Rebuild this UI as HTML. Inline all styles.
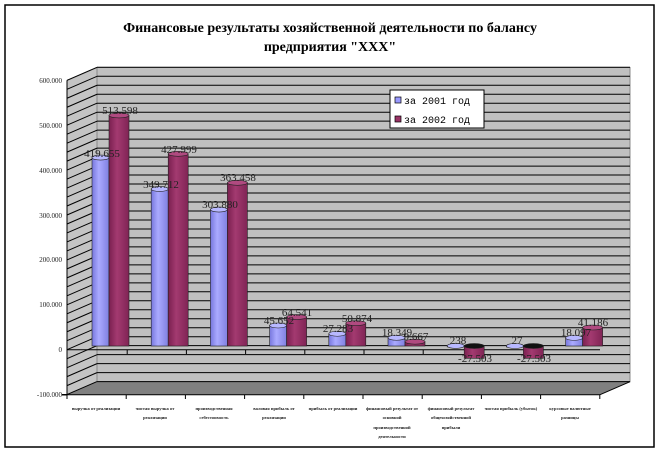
<!DOCTYPE html>
<html><head><meta charset="utf-8"><style>
body{margin:0;background:#fff}
svg text{font-family:"Liberation Serif","DejaVu Serif",serif}
</style></head><body>
<svg id="s" width="660" height="454" viewBox="0 0 660 454" xmlns="http://www.w3.org/2000/svg">
<defs>
<linearGradient id="gb" x1="0" x2="1"><stop offset="0" stop-color="#7777dd"/><stop offset="0.4" stop-color="#aaaaff"/><stop offset="1" stop-color="#8080e0"/></linearGradient>
<linearGradient id="gm" x1="0" x2="1"><stop offset="0" stop-color="#7a2050"/><stop offset="0.4" stop-color="#a33a70"/><stop offset="1" stop-color="#802455"/></linearGradient>
</defs>
<rect x="5" y="5" width="649" height="442" fill="#fff" stroke="#000" stroke-width="1.5"/>
<text x="330" y="32" text-anchor="middle" font-size="14" font-weight="bold">Финансовые результаты хозяйственной деятельности по балансу</text>
<text x="330" y="51" text-anchor="middle" font-size="14" font-weight="bold">предприятия "XXX"</text>
<rect x="97" y="67.5" width="533" height="314.2" fill="#c0c0c0" stroke="#888" stroke-width="1"/>
<polygon points="67,80.5 97,67.5 97,381.7 67,394.7" fill="#c4c4c4" stroke="#888"/>
<polygon points="67,394.7 97,381.7 630,381.7 600,394.7" fill="#808080"/>
<g id="grid" stroke="#000" stroke-width="1"></g>
<line x1="67" y1="349.7" x2="600" y2="349.7" stroke="#000"/>
<line x1="67" y1="394.7" x2="600" y2="394.7" stroke="#000"/>
<line x1="67" y1="80.5" x2="67" y2="394.7" stroke="#000"/>
<line x1="600" y1="394.7" x2="630" y2="381.7" stroke="#000"/>
<g id="ticks" stroke="#000"></g>
<g id="bars" stroke="#222" stroke-width="0.6"></g>
<g font-size="7" text-anchor="end" fill="#222">
<text x="62" y="83">600.000</text><text x="62" y="128">500.000</text><text x="62" y="173">400.000</text><text x="62" y="218">300.000</text><text x="62" y="262">200.000</text><text x="62" y="307">100.000</text><text x="62" y="352">0</text><text x="62" y="397">-100.000</text>
</g>
<g font-size="11" text-anchor="middle" fill="#222">
<text x="102" y="157">419.655</text><text x="120" y="114">513.598</text>
<text x="161" y="188">349.712</text><text x="179" y="153">427.999</text>
<text x="220" y="208">303.880</text><text x="238" y="181">363.458</text>
<text x="279" y="324">45.652</text><text x="297" y="316">64.541</text>
<text x="338" y="332">27.283</text><text x="357" y="322">50.874</text>
<text x="397" y="336">18.349</text><text x="416" y="340">9.667</text>
<text x="458" y="344">238</text><text x="475" y="362">-27.503</text>
<text x="517" y="344">27</text><text x="534" y="362">-27.503</text>
<text x="576" y="336">18.097</text><text x="593" y="326">41.186</text>
</g>
<rect x="390" y="90" width="94" height="38" fill="#fff" stroke="#000"/>
<rect x="395" y="97" width="6" height="6" fill="#9999ff" stroke="#000" stroke-width="0.7"/>
<rect x="395" y="116" width="6" height="6" fill="#993366" stroke="#000" stroke-width="0.7"/>
<g font-family="Liberation Mono,monospace" font-size="10"><text x="404" y="104" style="font-family:'Liberation Mono',monospace">за 2001 год</text><text x="404" y="123" style="font-family:'Liberation Mono',monospace">за 2002 год</text></g>
<g font-size="4.5" font-weight="bold" text-anchor="middle" fill="#222">
<text x="96" y="410">выручка от реализации</text>
<text x="155" y="410">чистая выручка от</text><text x="155" y="419">реализации</text>
<text x="214" y="410">производственная</text><text x="214" y="419">себестоимость</text>
<text x="274" y="410">валовая прибыль от</text><text x="274" y="419">реализации</text>
<text x="333" y="410">прибыль от реализации</text>
<text x="392" y="410">финансовый результат от</text><text x="392" y="419">основной</text><text x="392" y="429">производственной</text><text x="392" y="438">деятельности</text>
<text x="451" y="410">финансовый результат</text><text x="451" y="419">общехозяйственной</text><text x="451" y="429">прибыли</text>
<text x="511" y="410">чистая прибыль (убыток)</text>
<text x="570" y="410">курсовые валютные</text><text x="570" y="419">разницы</text>
</g>
</svg>
<script>
(function(){
var NS="http://www.w3.org/2000/svg";
function el(t,a,p){var e=document.createElementNS(NS,t);for(var k in a)e.setAttribute(k,a[k]);document.getElementById(p).appendChild(e);return e;}
for(var v=-100;v<=600;v+=20){var y=349.7-v*0.449;
el('line',{x1:97,y1:y-13,x2:630,y2:y-13},'grid');
el('line',{x1:67,y1:y,x2:97,y2:y-13},'grid');}
for(var i=0;i<=9;i++){var x=67+59.2*i;el('line',{x1:x,y1:394.7,x2:x,y2:399},'ticks');if(i>0&&i<9)el('line',{x1:x+1,y1:349.7,x2:x+1,y2:354},'ticks');el('line',{x1:67,y1:394.7,x2:62,y2:394.7},'ticks');}
var d=[[419655,513598],[349712,427999],[303880,363458],[45652,64541],[27283,50874],[18349,9667],[238,-27503],[27,-27503],[18097,41186]];
var base=346,k=0.000449;
d.forEach(function(p,i){
[[92+59.2*i,17,'url(#gb)','#b8b8ff',p[0]],[109+59.2*i,20,'url(#gm)','#b04a80',p[1]]].forEach(function(b){
var h=b[4]*k,top=Math.min(base-h,base),bot=Math.max(base-h,base);var hh=Math.max(bot-top,1);
el('rect',{x:b[0],y:top,width:b[1],height:hh,fill:b[2]},'bars');
el('ellipse',{cx:b[0]+b[1]/2,cy:top,rx:b[1]/2,ry:2.5,fill:b[4]<0?'#111':b[3]},'bars');
});});
})();
</script>
</body></html>
